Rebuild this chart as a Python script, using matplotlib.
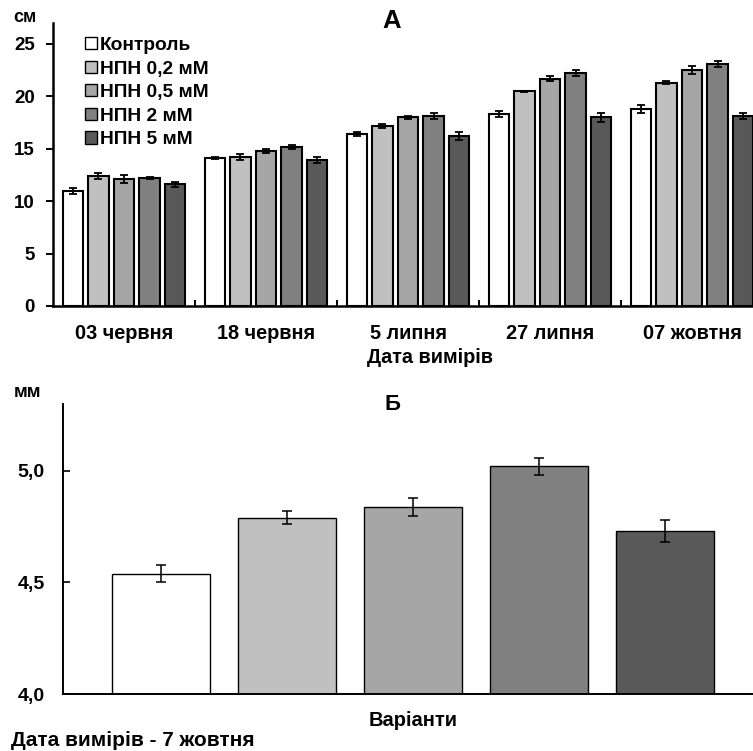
import numpy as np
import matplotlib.pyplot as plt

# Дані (рис. А): висота, см
dates = ['03 червня', '18 червня', '5 липня', '27 липня', '07 жовтня']
variants = ['Контроль', 'НПН 0,2 мМ', 'НПН 0,5 мМ', 'НПН 2 мМ', 'НПН 5 мМ']
colors = ['#ffffff', '#c0c0c0', '#a6a6a6', '#808080', '#595959']

height_ctrl = [11.0, 14.1, 16.4, 18.3, 18.8]
height_02 = [12.4, 14.2, 17.2, 20.5, 21.3]
height_05 = [12.1, 14.8, 18.0, 21.7, 22.5]
height_2 = [12.2, 15.2, 18.15, 22.2, 23.1]
height_5 = [11.6, 13.9, 16.2, 18.0, 18.1]

err_ctrl = [0.3, 0.1, 0.2, 0.3, 0.4]
err_02 = [0.3, 0.3, 0.2, 0.05, 0.15]
err_05 = [0.4, 0.2, 0.15, 0.2, 0.4]
err_2 = [0.1, 0.2, 0.3, 0.3, 0.3]
err_5 = [0.2, 0.3, 0.4, 0.4, 0.3]

# Дані (рис. Б): діаметр, мм, 7 жовтня
diam = [4.54, 4.79, 4.84, 5.02, 4.73]
diam_err = [0.04, 0.03, 0.04, 0.04, 0.05]

heights = [height_ctrl, height_02, height_05, height_2, height_5]
errs = [err_ctrl, err_02, err_05, err_2, err_5]

plt.rcParams['font.family'] = ['Liberation Sans', 'DejaVu Sans']
plt.rcParams['font.weight'] = 'bold'

W, H = 753, 751
fig = plt.figure(figsize=(W / 100, H / 100), dpi=100)


def px(x, y):
    # піксельні координати -> частки фігури
    return x / W, 1 - y / H


# ---------- Рисунок А ----------
ax1 = fig.add_axes([53 / W, 1 - 306 / H, (763 - 53) / W, (306 - 23) / H])
x = np.arange(len(dates))
pitch = 0.18
width = 0.142
for i in range(5):
    ax1.bar(x + (i - 2) * pitch, heights[i], width, color=colors[i],
            edgecolor='black', linewidth=1.5, label=variants[i], zorder=2)
    ax1.errorbar(x + (i - 2) * pitch, heights[i], yerr=errs[i], fmt='none',
                 ecolor='black', elinewidth=1.3, capsize=3, capthick=1.3, zorder=3)

ax1.set_xlim(-0.5, 4.5)
ax1.set_ylim(0, 27)
ax1.set_yticks([0, 5, 10, 15, 20, 25])
ax1.set_xticks(x)
ax1.set_xticklabels(dates, fontsize=14.3, fontweight='bold')
ax1.set_xticks(np.arange(0.5, 4.5, 1), minor=True)
ax1.tick_params(axis='x', which='major', length=0, pad=13)
ax1.tick_params(axis='x', which='minor', direction='in', length=4, width=1.4)
ax1.tick_params(axis='y', direction='out', length=5, width=1.4, labelsize=13.5, pad=8)
for lab in ax1.get_yticklabels():
    lab.set_fontweight('bold')
for s in ['top', 'right']:
    ax1.spines[s].set_visible(False)
for s in ['left', 'bottom']:
    ax1.spines[s].set_linewidth(1.8)

fig.text(*px(430, 357), 'Дата вимірів', fontsize=14.3, fontweight='bold',
         ha='center', va='center')
fig.text(*px(25, 17), 'см', fontsize=13, fontweight='bold', ha='center', va='center')
fig.text(*px(392, 21), 'А', fontsize=18.5, fontweight='bold', ha='center', va='center')

leg = ax1.legend(loc='upper left', bbox_to_anchor=px(85, 37),
                 bbox_transform=fig.transFigure, frameon=False,
                 fontsize=13.8, handlelength=0.62, handleheight=0.62,
                 handletextpad=0.15, labelspacing=0.34, borderpad=0,
                 borderaxespad=0)
for t in leg.get_texts():
    t.set_fontweight('bold')
for h in leg.legend_handles:
    h.set_linewidth(1.0)

# ---------- Рисунок Б ----------
ax2 = fig.add_axes([63 / W, 1 - 694 / H, (762 - 63) / W, (694 - 404) / H])
xb = np.arange(len(variants))
ax2.bar(xb, diam, 0.777, color=colors, edgecolor='black', linewidth=1.0, zorder=2)
ax2.errorbar(xb, diam, yerr=diam_err, fmt='none', ecolor='black',
             elinewidth=1.1, capsize=3.6, capthick=1.1, zorder=3)
ax2.set_xlim(-0.777, 4.77)
ax2.set_ylim(4.0, 5.3)
ax2.set_yticks([4.0, 4.5, 5.0])
ax2.set_yticklabels(['4,0', '4,5', '5,0'], fontsize=14, fontweight='bold')
ax2.set_xticks([])
ax2.tick_params(axis='y', direction='in', length=5, width=1.2, pad=13)
for s in ['top', 'right']:
    ax2.spines[s].set_visible(False)
for s in ['left', 'bottom']:
    ax2.spines[s].set_linewidth(1.4)

fig.text(*px(413, 720), 'Варіанти', fontsize=14.5, fontweight='bold',
         ha='center', va='center')
fig.text(*px(11, 741), 'Дата вимірів - 7 жовтня', fontsize=15, fontweight='bold',
         va='center')
fig.text(*px(27, 393), 'мм', fontsize=13.5, fontweight='bold', ha='center', va='center')
fig.text(*px(392, 405), 'Б', fontsize=16, fontweight='bold', ha='center', va='center')

fig.savefig('out.png', dpi=100)
